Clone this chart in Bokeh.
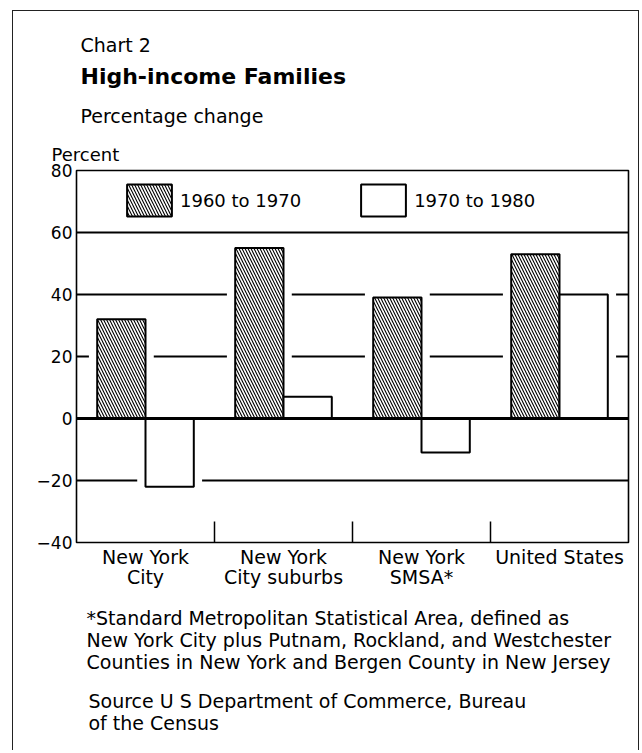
import numpy as np
from bokeh.plotting import figure
from bokeh.models import (ColumnDataSource, FixedTicker, Legend, LegendItem,
                          Span, Range1d, Title)
from bokeh.embed import file_html
from bokeh.resources import INLINE

# ---------------- data ----------------
categories = ["New York\nCity", "New York\nCity suburbs", "New York\nSMSA*", "United States"]
change_1960_1970 = [32, 55, 39, 53]
change_1970_1980 = [-22, 7, -11, 40]
series_names = ["1960 to 1970", "1970 to 1980"]
y_ticks = [-40, -20, 0, 20, 40, 60, 80]
y_tick_labels = ["\u221240", "\u221220", "0", "20", "40", "60", "80"]
grid_values = [60, 40, 20, -20]

chart_number = "Chart 2"
chart_title = "High-income Families"
chart_subtitle = "Percentage change"
y_unit = "Percent"
footnote_text = ("*Standard Metropolitan Statistical Area, defined as\n"
                 "New York City plus Putnam, Rockland, and Westchester\n"
                 "Counties in New York and Bergen County in New Jersey")
source_text = "Source  U S Department of Commerce, Bureau\nof the Census"

# ---------------- layout ----------------
FONT = "DejaVu Sans"
W, H = 627, 740
BL, BT = 63, 159
BR, BB = 12, 209

p = figure(width=W, height=H, x_range=Range1d(0, len(categories)), y_range=Range1d(-40, 80),
           output_backend="svg", toolbar_location=None,
           min_border_left=BL, min_border_right=BR, min_border_top=BT, min_border_bottom=BB)
p.styles = {"margin-left": "12px", "margin-top": "10px",
            "border-top": "1px solid #222", "border-left": "1px solid #222",
            "border-right": "1px solid #222"}
p.xgrid.grid_line_color = None
p.ygrid.grid_line_color = None
p.background_fill_color = "white"
p.border_fill_color = "white"
p.outline_line_color = "black"
p.outline_line_width = 1.6

idx = np.arange(len(categories))
bar_w = 0.35
x1 = idx + 0.5 - bar_w / 2
x2 = idx + 0.5 + bar_w / 2

# gridlines with gaps around the bars
pad = 0.06
tol = 1.5
bars = [(x - bar_w / 2, x + bar_w / 2, v) for x, v in zip(x1, change_1960_1970)] + \
       [(x - bar_w / 2, x + bar_w / 2, v) for x, v in zip(x2, change_1970_1980)]
gx0, gx1, gy = [], [], []
for g in grid_values:
    blocks = sorted((l - pad, r + pad) for l, r, v in bars
                    if min(0, v) - tol <= g <= max(0, v) + tol)
    start = 0.0
    for a, b in blocks:
        if a > start:
            gx0.append(start); gx1.append(a); gy.append(g)
        start = max(start, b)
    if start < len(categories):
        gx0.append(start); gx1.append(float(len(categories))); gy.append(g)
p.segment(x0=gx0, x1=gx1, y0=gy, y1=gy, line_color="black", line_width=1.8)

p.add_layout(Span(location=0, dimension="width", line_color="black", line_width=3))

src1 = ColumnDataSource(dict(x=x1, top=change_1960_1970))
src2 = ColumnDataSource(dict(x=x2, top=change_1970_1980))
r1 = p.vbar(x="x", top="top", bottom=0, width=bar_w, source=src1,
            fill_color="white", line_color="black", line_width=2,
            hatch_pattern="left_diagonal_line", hatch_color="black",
            hatch_scale=6, hatch_weight=1.1)
r2 = p.vbar(x="x", top="top", bottom=0, width=bar_w, source=src2,
            fill_color="white", line_color="black", line_width=2)

# axes
p.yaxis.ticker = FixedTicker(ticks=y_ticks)
p.yaxis.major_label_overrides = {t: s for t, s in zip(y_ticks, y_tick_labels)}
p.yaxis.axis_line_color = None
p.yaxis.major_tick_in = 0
p.yaxis.major_tick_out = 0
p.yaxis.minor_tick_line_color = None
p.yaxis.major_label_standoff = 4
p.yaxis.major_label_text_font = FONT
p.yaxis.major_label_text_font_size = "17px"
p.yaxis.major_label_text_color = "black"

p.xaxis.ticker = FixedTicker(ticks=list(idx + 0.5), minor_ticks=list(idx[1:]))
p.xaxis.major_label_overrides = {float(t): c for t, c in zip(idx + 0.5, categories)}
p.xaxis.axis_line_color = None
p.xaxis.major_tick_in = 0
p.xaxis.major_tick_out = 0
p.xaxis.minor_tick_in = 21
p.xaxis.minor_tick_out = 0
p.xaxis.minor_tick_line_color = "black"
p.xaxis.minor_tick_line_width = 1.5
p.xaxis.major_label_standoff = 3
p.xaxis.major_label_text_font = FONT
p.xaxis.major_label_text_font_size = "19px"
p.xaxis.major_label_text_line_height = 0.93
p.xaxis.major_label_text_color = "black"

# legend
legend = Legend(items=[LegendItem(label=series_names[0], renderers=[r1]),
                       LegendItem(label=series_names[1], renderers=[r2])],
                orientation="horizontal", location=(45, 322),
                border_line_color=None, background_fill_alpha=0,
                label_text_font=FONT, label_text_font_size="18px", label_text_color="black",
                glyph_width=56, glyph_height=40, label_standoff=3,
                spacing=54, margin=0, padding=12)
p.add_layout(legend)

# titles above (first added sits nearest the frame)
def title(txt, size, offset, standoff, style="normal"):
    return Title(text=txt, align="left", offset=offset, standoff=standoff,
                 text_font=FONT, text_font_size=size, text_font_style=style,
                 text_color="black")

p.add_layout(title(y_unit, "18px", -25, 11), "above")
p.add_layout(title(chart_subtitle, "19px", 4, 19), "above")
p.add_layout(title(chart_title, "22px", 4, 9, "bold"), "above")
p.add_layout(title(chart_number, "19px", 4, 4), "above")

# footnotes below the category axis
p.add_layout(title(footnote_text, "19px", 10, 29), "below")
p.add_layout(title(source_text, "19px", 12, 0), "below")

open("out.html", "w").write(file_html(p, INLINE))
